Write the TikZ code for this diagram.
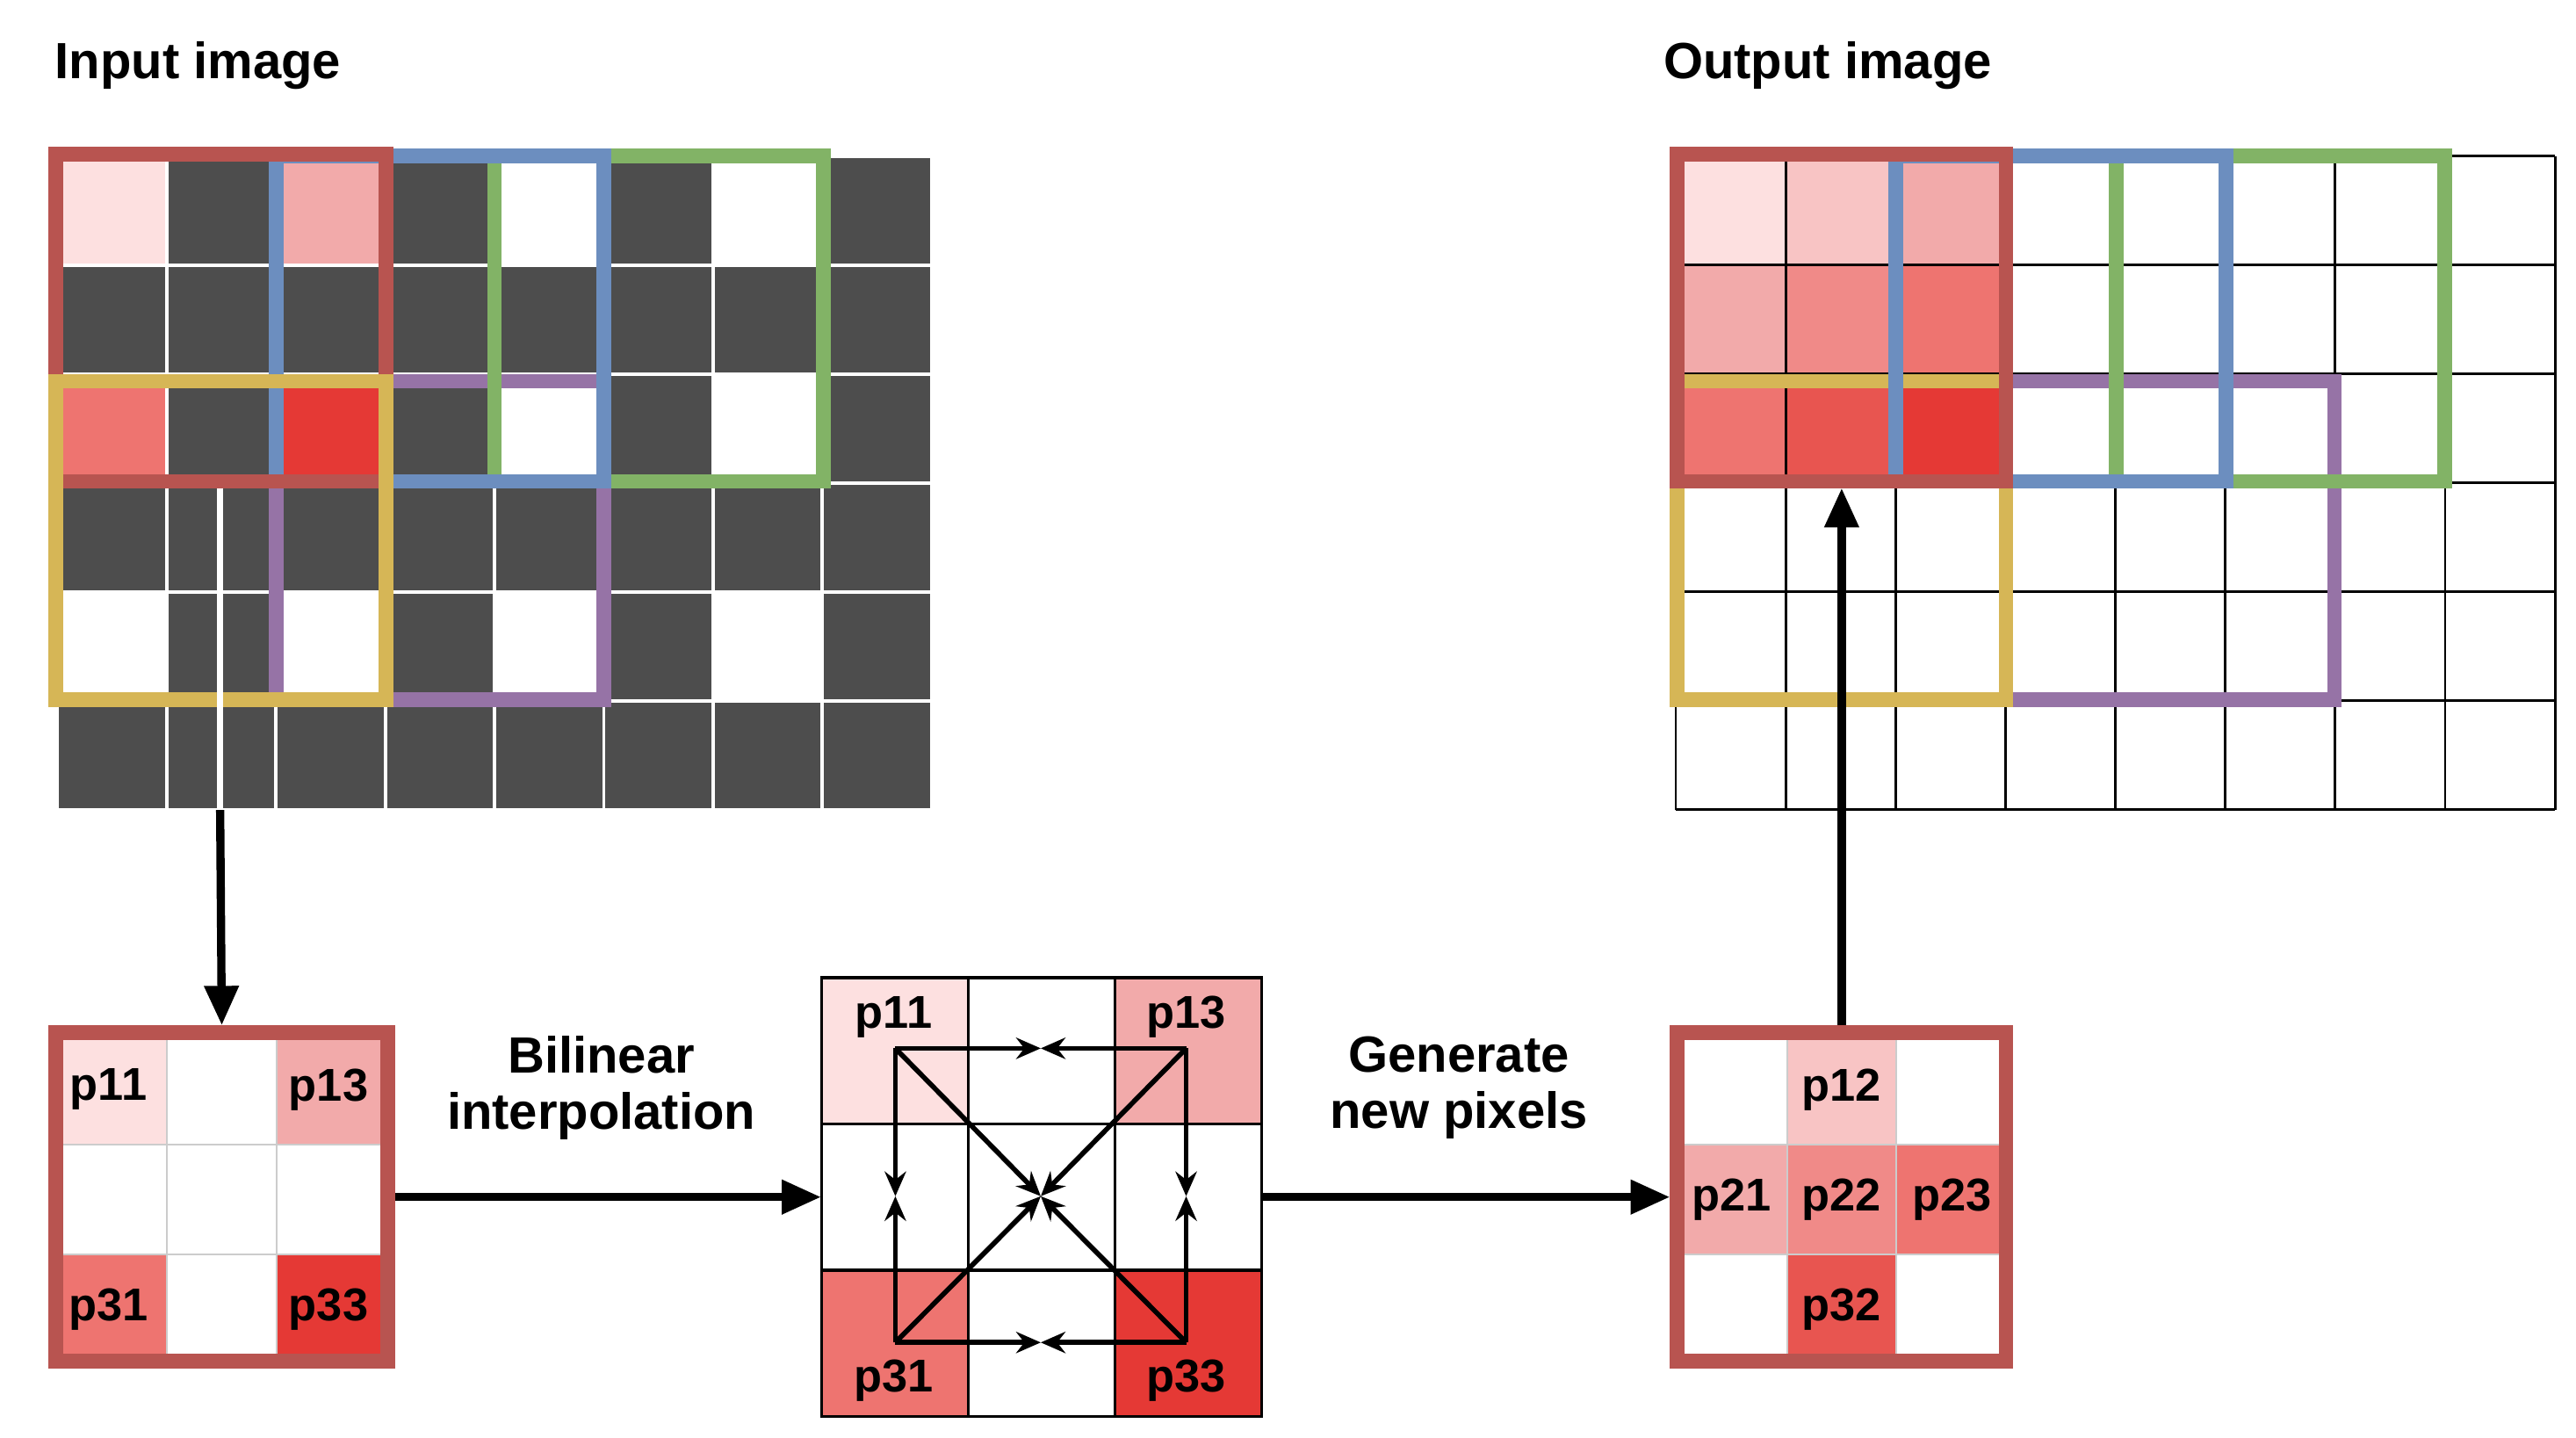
\documentclass[tikz,border=0pt]{standalone}
\usepackage{fontspec}
\setmainfont{Liberation Sans}
\usetikzlibrary{arrows.meta}
\definecolor{dk}{HTML}{4D4D4D}
\definecolor{c1}{HTML}{FDE0E0}
\definecolor{c2}{HTML}{F8C4C4}
\definecolor{c3}{HTML}{F2AAAA}
\definecolor{c4}{HTML}{F08A88}
\definecolor{c5}{HTML}{EE7470}
\definecolor{c6}{HTML}{E85550}
\definecolor{c7}{HTML}{E53935}
\definecolor{fr}{HTML}{B85450}
\definecolor{fb}{HTML}{6C8EBF}
\definecolor{fg}{HTML}{82B366}
\definecolor{fy}{HTML}{D6B656}
\definecolor{fp}{HTML}{9673A6}
\begin{document}
\begin{tikzpicture}[x=1pt,y=-1pt,
  frame/.style={line width=9pt},
  big/.style={-{Triangle[length=24pt,width=20pt]},line width=5pt},
  small/.style={-{Stealth[length=15pt,width=13pt,inset=5pt]},line width=3pt},
  lab/.style={font=\bfseries\fontsize{31}{36}\selectfont,align=center},
  plab/.style={font=\bfseries\fontsize{28}{32}\selectfont}]
\useasboundingbox (0,0) rectangle (1568,875);
\node[lab,anchor=west] (t1) at (30,40) {Input image};
\node[lab,anchor=west] (t2) at (1009,40) {Output image};
% input grid
\def\cw{66.5}
\foreach \r/\row in {0/{c1,dk,c3,dk,white,dk,white,dk},1/{dk,dk,dk,dk,dk,dk,dk,dk},2/{c5,dk,c7,dk,white,dk,white,dk},3/{dk,dk,dk,dk,dk,dk,dk,dk},4/{white,dk,white,dk,white,dk,white,dk},5/{dk,dk,dk,dk,dk,dk,dk,dk}}{
  \foreach \c [count=\i from 0] in \row {
    \fill[\c,draw=white,line width=2pt] (35+\i*\cw,95+\r*66.3) rectangle ++(\cw,66.3);
  }}
\draw[frame,fp] (168,232) rectangle (367.5,426);
\draw[frame,fg] (301,95) rectangle (501,293);
\draw[frame,fb] (168,95) rectangle (367.5,293);
\draw[frame,fr] (34,94) rectangle (235,293);
\draw[frame,fy] (34,232) rectangle (235,426);
\draw[white,line width=4pt] (134,297) -- (134,493);
\coordinate (inbot) at (134,493);
% output grid
\foreach \r/\row in {0/{c1,c2,c3},1/{c3,c4,c5},2/{c5,c6,c7}}{
  \foreach \c [count=\i from 0] in \row {
    \fill[\c] (1020+\i*66.9,95+\r*66.3) rectangle ++(66.9,66.3);
  }}
\foreach \i in {0,...,8} \draw[line width=1.5pt] (1020+\i*66.9,95) -- (1020+\i*66.9,493);
\foreach \j in {0,...,6} \draw[line width=1.5pt] (1020,95+\j*66.3) -- (1555,95+\j*66.3);
\draw[frame,fp] (1221,232) rectangle (1421,426);
\draw[frame,fg] (1288,95) rectangle (1488,293);
\draw[frame,fy] (1021,232) rectangle (1221,426);
\draw[frame,fb] (1154,95) rectangle (1355,293);
\draw[frame,fr] (1021,94) rectangle (1221,293);
\coordinate (outtop) at (1121,297);
% small input grid
\foreach \r/\row in {0/{c1,white,c3},1/{white,white,white},2/{c5,white,c7}}{
  \foreach \c [count=\i from 0] in \row {
    \fill[\c,draw=white!80!black,line width=1pt] (35+\i*66.7,630+\r*66.7) rectangle ++(66.7,66.7);
  }}
\node[draw=fr,frame,minimum width=202pt,minimum height=200pt,inner sep=0pt] (s1) at (135,728.5) {};
\node[plab] (p11a) at (66,663) {p11};
\node[plab] (p13a) at (200,663) {p13};
\node[plab] (p31a) at (66,797) {p31};
\node[plab] (p33a) at (200,797) {p33};
% middle grid
\foreach \r/\row in {0/{c1,white,c3},1/{white,white,white},2/{c5,white,c7}}{
  \foreach \c [count=\i from 0] in \row {
    \fill[\c,draw=black,line width=1.8pt] (500+\i*89.3,595+\r*89) rectangle ++(89.3,89);
  }}
\node[minimum width=268pt,minimum height=267pt,inner sep=0pt] (mid) at (634,728.5) {};
\node[plab] (p11b) at (544,619) {p11};
\node[plab] (p13b) at (722,619) {p13};
\node[plab] (p31b) at (544,840) {p31};
\node[plab] (p33b) at (722,840) {p33};
\coordinate (A) at (545,638);
\coordinate (B) at (722,638);
\coordinate (C) at (545,817);
\coordinate (D) at (722,817);
\coordinate (T) at (633.5,638);
\coordinate (Bo) at (633.5,817);
\coordinate (L) at (545,728);
\coordinate (R) at (722,728);
\coordinate (M) at (633.5,728);
\foreach \a/\b in {A/T,B/T,C/Bo,D/Bo,A/L,C/L,B/R,D/R,A/M,B/M,C/M,D/M}
  \draw[small] (\a) -- (\b);
% small output grid
\foreach \r/\row in {0/{white,c2,white},1/{c3,c4,c5},2/{white,c6,white}}{
  \foreach \c [count=\i from 0] in \row {
    \fill[\c,draw=white!80!black,line width=1pt] (1021+\i*66.7,630+\r*66.7) rectangle ++(66.7,66.7);
  }}
\node[draw=fr,frame,minimum width=200pt,minimum height=200pt,inner sep=0pt] (s2) at (1121,728.5) {};
\node[plab] (p12) at (1121,663) {p12};
\node[plab] (p21) at (1054,730) {p21};
\node[plab] (p22) at (1121,730) {p22};
\node[plab] (p23) at (1188,730) {p23};
\node[plab] (p32) at (1121,797) {p32};
% connectors
\draw[big] (inbot) -- (s1.north);
\draw[big] (s1.east) -- (mid.west);
\draw[big] (mid.east) -- (s2.west);
\draw[big] (s2.north) -- (outtop);
\node[lab] (bl) at (366,662) {Bilinear\\[-2pt]interpolation};
\node[lab] (gn) at (888,662) {Generate\\[-2pt]new pixels};
\end{tikzpicture}
\end{document}
